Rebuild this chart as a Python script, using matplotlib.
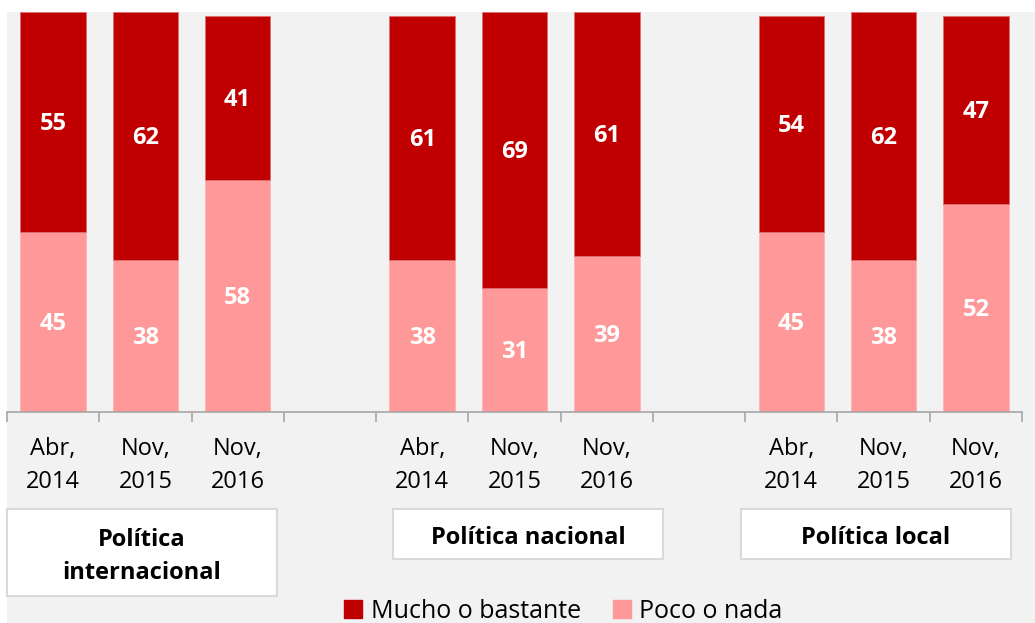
import numpy as np
from matplotlib import pyplot as plt
from matplotlib.patches import Rectangle, Patch

plt.rcParams['font.family'] = ['Open Sans', 'DejaVu Sans']

# data (slots 3 and 7 are empty gaps between groups)
tick_labels = ['Abr,\n2014', 'Nov,\n2015', 'Nov,\n2016', '',
               'Abr,\n2014', 'Nov,\n2015', 'Nov,\n2016', '',
               'Abr,\n2014', 'Nov,\n2015', 'Nov,\n2016']
poco = [45, 38, 58, None, 38, 31, 39, None, 45, 38, 52]
mucho = [55, 62, 41, None, 61, 69, 61, None, 54, 62, 47]
groups = ['Política\ninternacional', 'Política nacional', 'Política local']
series_names = ['Mucho o bastante', 'Poco o nada']

c_mucho = '#c00000'
c_poco = '#ff9999'
bg = '#f2f2f2'
W, H = 1035, 623
fs = 17

fig = plt.figure(figsize=(W/100, H/100), dpi=100, facecolor='white')
# grey chart area (white strip on top and on the left)
fig.patches.append(Rectangle((7/W, 0), 1 - 7/W, (H - 12)/H, transform=fig.transFigure,
                             facecolor=bg, edgecolor='none', zorder=-1))

ax = fig.add_axes([7/W, (H - 412)/H, 1015/W, 400/H])
ax.set_facecolor('none')
ax.set_zorder(1)

x = np.arange(len(tick_labels))
idx = [i for i in x if poco[i] is not None]
pv = np.array([poco[i] for i in idx])
mv = np.array([mucho[i] for i in idx])
bw = 0.71
ax.bar(idx, pv, bw, color=c_poco, edgecolor='#ffb3b3', linewidth=0.6)
ax.bar(idx, mv, bw, bottom=pv, color=c_mucho, edgecolor='#e07070', linewidth=0.6)

for i, p, m in zip(idx, pv, mv):
    ax.text(i, p/2 - 0.5, str(p), ha='center', va='center', color='white',
            fontsize=fs, fontweight='bold')
    ax.text(i, p + m/2 - 0.5, str(m), ha='center', va='center', color='white',
            fontsize=fs, fontweight='bold')

ax.set_xlim(-0.5, len(tick_labels) - 0.5)
ax.set_ylim(0, 100)
for s in ['top', 'right', 'left']:
    ax.spines[s].set_visible(False)
ax.spines['bottom'].set_color('#a6a6a6')
ax.spines['bottom'].set_linewidth(1.2)
ax.set_yticks([])
ax.set_xticks(np.arange(-0.5, len(tick_labels)))
ax.set_xticklabels([])
ax.tick_params(axis='x', which='major', length=7, width=1.2, color='#a6a6a6')
ax.set_xticks(x, minor=True)
ax.set_xticklabels(tick_labels, minor=True, fontsize=fs, linespacing=1.5)
ax.tick_params(axis='x', which='minor', length=0, pad=18)

# group label boxes (pixel layout)
boxes = [(7, 509, 277, 596), (393, 509, 663, 559), (741, 509, 1011, 559)]
for (x0, y0, x1, y1), g in zip(boxes, groups):
    fig.patches.append(Rectangle((x0/W, 1 - y1/H), (x1 - x0)/W, (y1 - y0)/H,
                                 transform=fig.transFigure, facecolor='white',
                                 edgecolor='#d9d9d9', linewidth=1.5, zorder=1))
    yc = (y0 + y1)/2 + 4
    fig.text((x0 + x1)/2/W, 1 - yc/H, g, ha='center', va='center',
             fontsize=fs, fontweight='bold', linespacing=1.55, zorder=2)

handles = [Patch(color=c_mucho), Patch(color=c_poco)]
fig.legend(handles, series_names, loc='center', bbox_to_anchor=(0.5445, 0.019),
           ncol=2, frameon=False, fontsize=18, handlelength=0.7, handleheight=0.7,
           handletextpad=0.35, columnspacing=1.3)

fig.savefig('out.png', dpi=100, facecolor='white')
